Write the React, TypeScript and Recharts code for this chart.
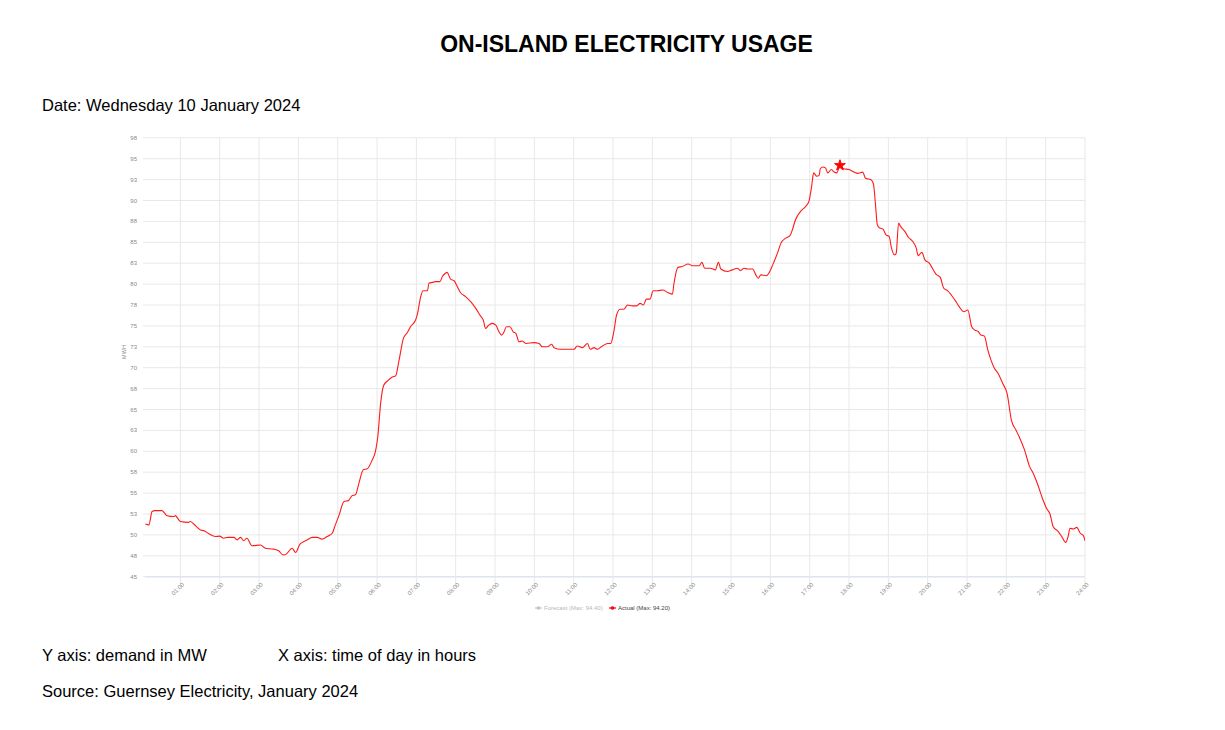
import React from "react";
import { LineChart, Line, XAxis, YAxis, CartesianGrid, Legend, Symbols } from "recharts";

// time of day (decimal hours) and actual demand (MW)
const hours: number[] = [
  0.11, 0.2, 0.28, 0.35, 0.53, 0.66, 0.83, 0.87, 1.0, 1.21, 1.25, 1.34, 1.51, 1.6, 1.72, 1.89, 2.0, 2.1, 2.2, 2.36,
  2.44, 2.53, 2.61, 2.69, 2.82, 3.04, 3.16, 3.37, 3.5, 3.61, 3.69, 3.84, 3.93, 4.04, 4.14, 4.22, 4.35, 4.48, 4.6, 4.73,
  4.86, 4.94, 5.03, 5.16, 5.27, 5.37, 5.45, 5.54, 5.65, 5.75, 5.88, 5.96, 6.02, 6.09, 6.17, 6.26, 6.39, 6.47, 6.56, 6.67,
  6.77, 6.85, 6.98, 7.03, 7.11, 7.17, 7.28, 7.32, 7.4, 7.49, 7.6, 7.66, 7.74, 7.78, 7.87, 7.96, 8.02, 8.12, 8.25, 8.38,
  8.51, 8.63, 8.7, 8.76, 8.84, 8.93, 9.02, 9.1, 9.17, 9.22, 9.29, 9.38, 9.46, 9.53, 9.61, 9.69, 9.78, 9.99, 10.12, 10.2,
  10.33, 10.44, 10.5, 10.67, 10.84, 11.01, 11.09, 11.22, 11.35, 11.42, 11.52, 11.6, 11.73, 11.86, 11.94, 12.02, 12.09, 12.18, 12.28, 12.37,
  12.49, 12.6, 12.69, 12.77, 12.85, 12.94, 13.02, 13.13, 13.26, 13.39, 13.51, 13.55, 13.65, 13.76, 13.91, 14.02, 14.19, 14.26, 14.33, 14.48,
  14.6, 14.68, 14.74, 14.91, 15.03, 15.16, 15.24, 15.33, 15.42, 15.55, 15.63, 15.69, 15.76, 15.9, 15.96, 16.06, 16.18, 16.27, 16.39, 16.5,
  16.56, 16.64, 16.77, 16.9, 16.98, 17.05, 17.1, 17.18, 17.24, 17.27, 17.33, 17.4, 17.46, 17.55, 17.62, 17.69, 17.77, 17.86, 18.0, 18.13,
  18.22, 18.35, 18.42, 18.55, 18.62, 18.67, 18.72, 18.78, 18.86, 18.94, 19.02, 19.08, 19.16, 19.2, 19.26, 19.31, 19.42, 19.51, 19.62, 19.71,
  19.76, 19.85, 19.93, 20.04, 20.12, 20.21, 20.32, 20.41, 20.51, 20.6, 20.72, 20.8, 20.92, 21.02, 21.12, 21.2, 21.29, 21.35, 21.44, 21.53,
  21.61, 21.7, 21.78, 21.91, 22.02, 22.13, 22.25, 22.33, 22.46, 22.59, 22.68, 22.8, 22.93, 23.02, 23.11, 23.19, 23.32, 23.41, 23.51, 23.57,
  23.62, 23.7, 23.79, 23.88, 23.96, 24.0,
];

const actualMW: number[] = [
  51.3, 51.2, 52.8, 52.9, 52.9, 52.3, 52.2, 52.3, 51.6, 51.5, 51.6, 51.3, 50.6, 50.5, 50.15, 49.8, 49.85, 49.6, 49.7, 49.7,
  49.4, 49.7, 49.3, 49.6, 48.7, 48.8, 48.4, 48.3, 48.1, 47.6, 47.7, 48.4, 47.9, 48.9, 49.2, 49.4, 49.7, 49.7, 49.5, 49.8,
  50.2, 51.2, 52.3, 54.0, 54.1, 54.7, 54.8, 56.2, 57.8, 57.9, 59.0, 60.0, 61.8, 65.7, 67.9, 68.4, 68.9, 69.0, 70.9, 73.5,
  74.2, 74.9, 75.7, 76.5, 78.5, 79.2, 79.2, 80.1, 80.2, 80.3, 80.3, 80.9, 81.3, 81.4, 80.6, 80.4, 79.9, 79.0, 78.5, 77.9,
  77.1, 76.2, 75.7, 74.7, 75.1, 75.3, 75.1, 74.3, 73.9, 74.2, 74.9, 74.9, 74.3, 74.1, 73.1, 73.2, 72.9, 73.0, 72.9, 72.5,
  72.5, 72.8, 72.4, 72.2, 72.2, 72.2, 72.6, 72.4, 72.9, 72.2, 72.4, 72.2, 72.6, 72.9, 72.9, 74.3, 76.3, 77.0, 77.0, 77.5,
  77.4, 77.4, 77.7, 77.5, 78.2, 78.2, 79.2, 79.2, 79.3, 79.0, 78.8, 80.1, 82.0, 82.1, 82.4, 82.2, 82.2, 82.6, 81.9, 81.9,
  81.7, 82.6, 81.8, 81.5, 81.7, 81.9, 81.6, 81.9, 81.8, 81.8, 81.1, 80.7, 81.1, 81.0, 81.3, 82.3, 83.7, 84.9, 85.5, 85.8,
  86.5, 87.7, 88.7, 89.3, 89.9, 91.7, 93.3, 92.9, 93.0, 93.8, 94.0, 93.9, 93.3, 93.7, 93.4, 93.3, 94.2, 93.8, 93.7, 93.4,
  93.25, 93.4, 92.65, 92.5, 92.0, 89.7, 87.1, 86.7, 86.6, 85.9, 85.7, 84.3, 83.5, 83.7, 87.3, 86.9, 86.3, 85.6, 85.1, 84.3,
  83.4, 83.8, 82.9, 82.5, 81.9, 81.2, 80.8, 79.5, 79.2, 78.7, 77.9, 77.3, 76.7, 76.9, 74.9, 74.5, 74.3, 73.9, 73.8, 72.1,
  70.9, 69.9, 69.4, 68.1, 66.9, 63.7, 62.5, 61.7, 60.2, 58.2, 57.4, 56.0, 54.2, 53.2, 52.5, 51.0, 50.4, 49.8, 49.1, 49.8,
  50.8, 50.7, 50.9, 50.2, 49.9, 49.3,
];

const xTicks: number[] = [1, 2, 3, 4, 5, 6, 7, 8, 9, 10, 11, 12, 13, 14, 15, 16, 17, 18, 19, 20, 21, 22, 23, 24];
const xTickLabels: string[] = [
  "01:00", "02:00", "03:00", "04:00", "05:00", "06:00", "07:00", "08:00", "09:00", "10:00", "11:00", "12:00",
  "13:00", "14:00", "15:00", "16:00", "17:00", "18:00", "19:00", "20:00", "21:00", "22:00", "23:00", "24:00",
];
const yTicks: number[] = [45, 47.5, 50, 52.5, 55, 57.5, 60, 62.5, 65, 67.5, 70, 72.5, 75, 77.5, 80, 82.5, 85, 87.5, 90, 92.5, 95, 97.5];
const yTickLabels: string[] = ["45", "48", "50", "53", "55", "58", "60", "63", "65", "68", "70", "73", "75", "78", "80", "83", "85", "88", "90", "93", "95", "98"];

const legendItems = [
  { name: "Forecast (Max: 94.40)", color: "#c4c4c4", text: "#b8b8b8" },
  { name: "Actual (Max: 94.20)", color: "#ff0000", text: "#444" },
];

const data = hours.map((h, i) => ({ h, mw: actualMW[i] }));
const maxIdx = actualMW.reduce((best, v, i) => (v > actualMW[best] ? i : best), 0);

const FONT = "Arial, 'Liberation Sans', Helvetica, sans-serif";

const XTick = (props: any) => {
  const { x, payload } = props;
  const idx = xTicks.indexOf(payload.value);
  const label = idx >= 0 ? xTickLabels[idx] : "";
  return (
    <text
      transform={`translate(${x - 2.5},${589}) rotate(-45)`}
      textAnchor="middle"
      dominantBaseline="central"
      fontSize={6}
      fill="#8a8a8a"
      fontFamily={FONT}
    >
      {label}
    </text>
  );
};

const YTick = (props: any) => {
  const { y, payload } = props;
  const idx = yTicks.indexOf(payload.value);
  const label = idx >= 0 ? yTickLabels[idx] : "";
  return (
    <text x={137} y={y} textAnchor="end" dominantBaseline="central" fontSize={6} fill="#8a8a8a" fontFamily={FONT}>
      {label}
    </text>
  );
};

const YLabel = () => (
  <text
    transform="translate(124,352) rotate(-90)"
    textAnchor="middle"
    dominantBaseline="central"
    fontSize={5.5}
    fill="#8a8a8a"
    fontFamily={FONT}
  >
    MWH
  </text>
);

const LegendContent = () => (
  <svg width={1225} height={20} style={{ display: "block" }}>
    {legendItems.map((it, i) => {
      const x0 = i === 0 ? 535 : 609;
      return (
        <g key={it.name}>
          <line x1={x0} x2={x0 + 7} y1={9} y2={9} stroke={it.color} strokeWidth={1.2} />
          <circle cx={x0 + 3.5} cy={9} r={1.8} fill={it.color} />
          <text x={x0 + 9} y={9} dominantBaseline="central" fontSize={6} fill={it.text} fontFamily={FONT}>
            {it.name}
          </text>
        </g>
      );
    })}
  </svg>
);

const MaxDot = (props: any) => {
  const { cx, cy, index } = props;
  if (index !== maxIdx) return <g key={`d${index}`} />;
  return <Symbols key={`d${index}`} cx={cx} cy={cy} type="star" size={36} fill="#ff0000" stroke="#ff0000" />;
};

const textStyle: React.CSSProperties = {
  position: "absolute",
  fontFamily: FONT,
  fontSize: 16.5,
  color: "#000",
  whiteSpace: "nowrap",
  margin: 0,
};

export default function App() {
  return (
    <div style={{ position: "absolute", left: 0, top: 0, width: 1225, height: 730, background: "#fff" }}>
      <div
        style={{
          ...textStyle,
          left: 0,
          top: 31,
          width: 1253,
          textAlign: "center",
          fontSize: 23,
          fontWeight: "bold",
        }}
      >
        ON-ISLAND ELECTRICITY USAGE
      </div>
      <div style={{ ...textStyle, left: 42, top: 96 }}>Date: Wednesday 10 January 2024</div>

      <div style={{ position: "absolute", left: 0, top: 0 }}>
        <LineChart
          width={1225}
          height={730}
          data={data}
          margin={{ top: 137.8, left: 115, right: 140, bottom: 123.3 }}
        >
          <CartesianGrid stroke="#e8e8e8" strokeWidth={1} verticalValues={xTicks} horizontalValues={yTicks} />
          <XAxis
            dataKey="h"
            type="number"
            domain={[0.1, 24]}
            ticks={xTicks}
            allowDataOverflow
            height={30}
            interval={0}
            tick={<XTick />}
            tickSize={7}
            tickLine={{ stroke: "#e8e8e8" }}
            axisLine={{ stroke: "#dfe5ee", strokeWidth: 1.5 }}
          />
          <YAxis
            type="number"
            domain={[45, 97.5]}
            ticks={yTicks}
            allowDataOverflow
            width={30}
            interval={0}
            tick={<YTick />}
            tickSize={2}
            tickLine={{ stroke: "#e8e8e8" }}
            axisLine={false}
            label={<YLabel />}
          />
          <Legend
            layout="horizontal"
            verticalAlign="middle"
            align="center"
            wrapperStyle={{ top: 599, left: 0, width: 1225, height: 20 }}
            content={<LegendContent />}
          />
          <Line
            type="monotone"
            dataKey="mw"
            stroke="#ff1a1a"
            strokeWidth={1.1}
            dot={<MaxDot />}
            activeDot={false}
            isAnimationActive={false}
          />
        </LineChart>
      </div>

      <div style={{ ...textStyle, left: 42, top: 646 }}>Y axis: demand in MW</div>
      <div style={{ ...textStyle, left: 278, top: 646 }}>X axis: time of day in hours</div>
      <div style={{ ...textStyle, left: 42, top: 682 }}>Source: Guernsey Electricity, January 2024</div>
    </div>
  );
}
